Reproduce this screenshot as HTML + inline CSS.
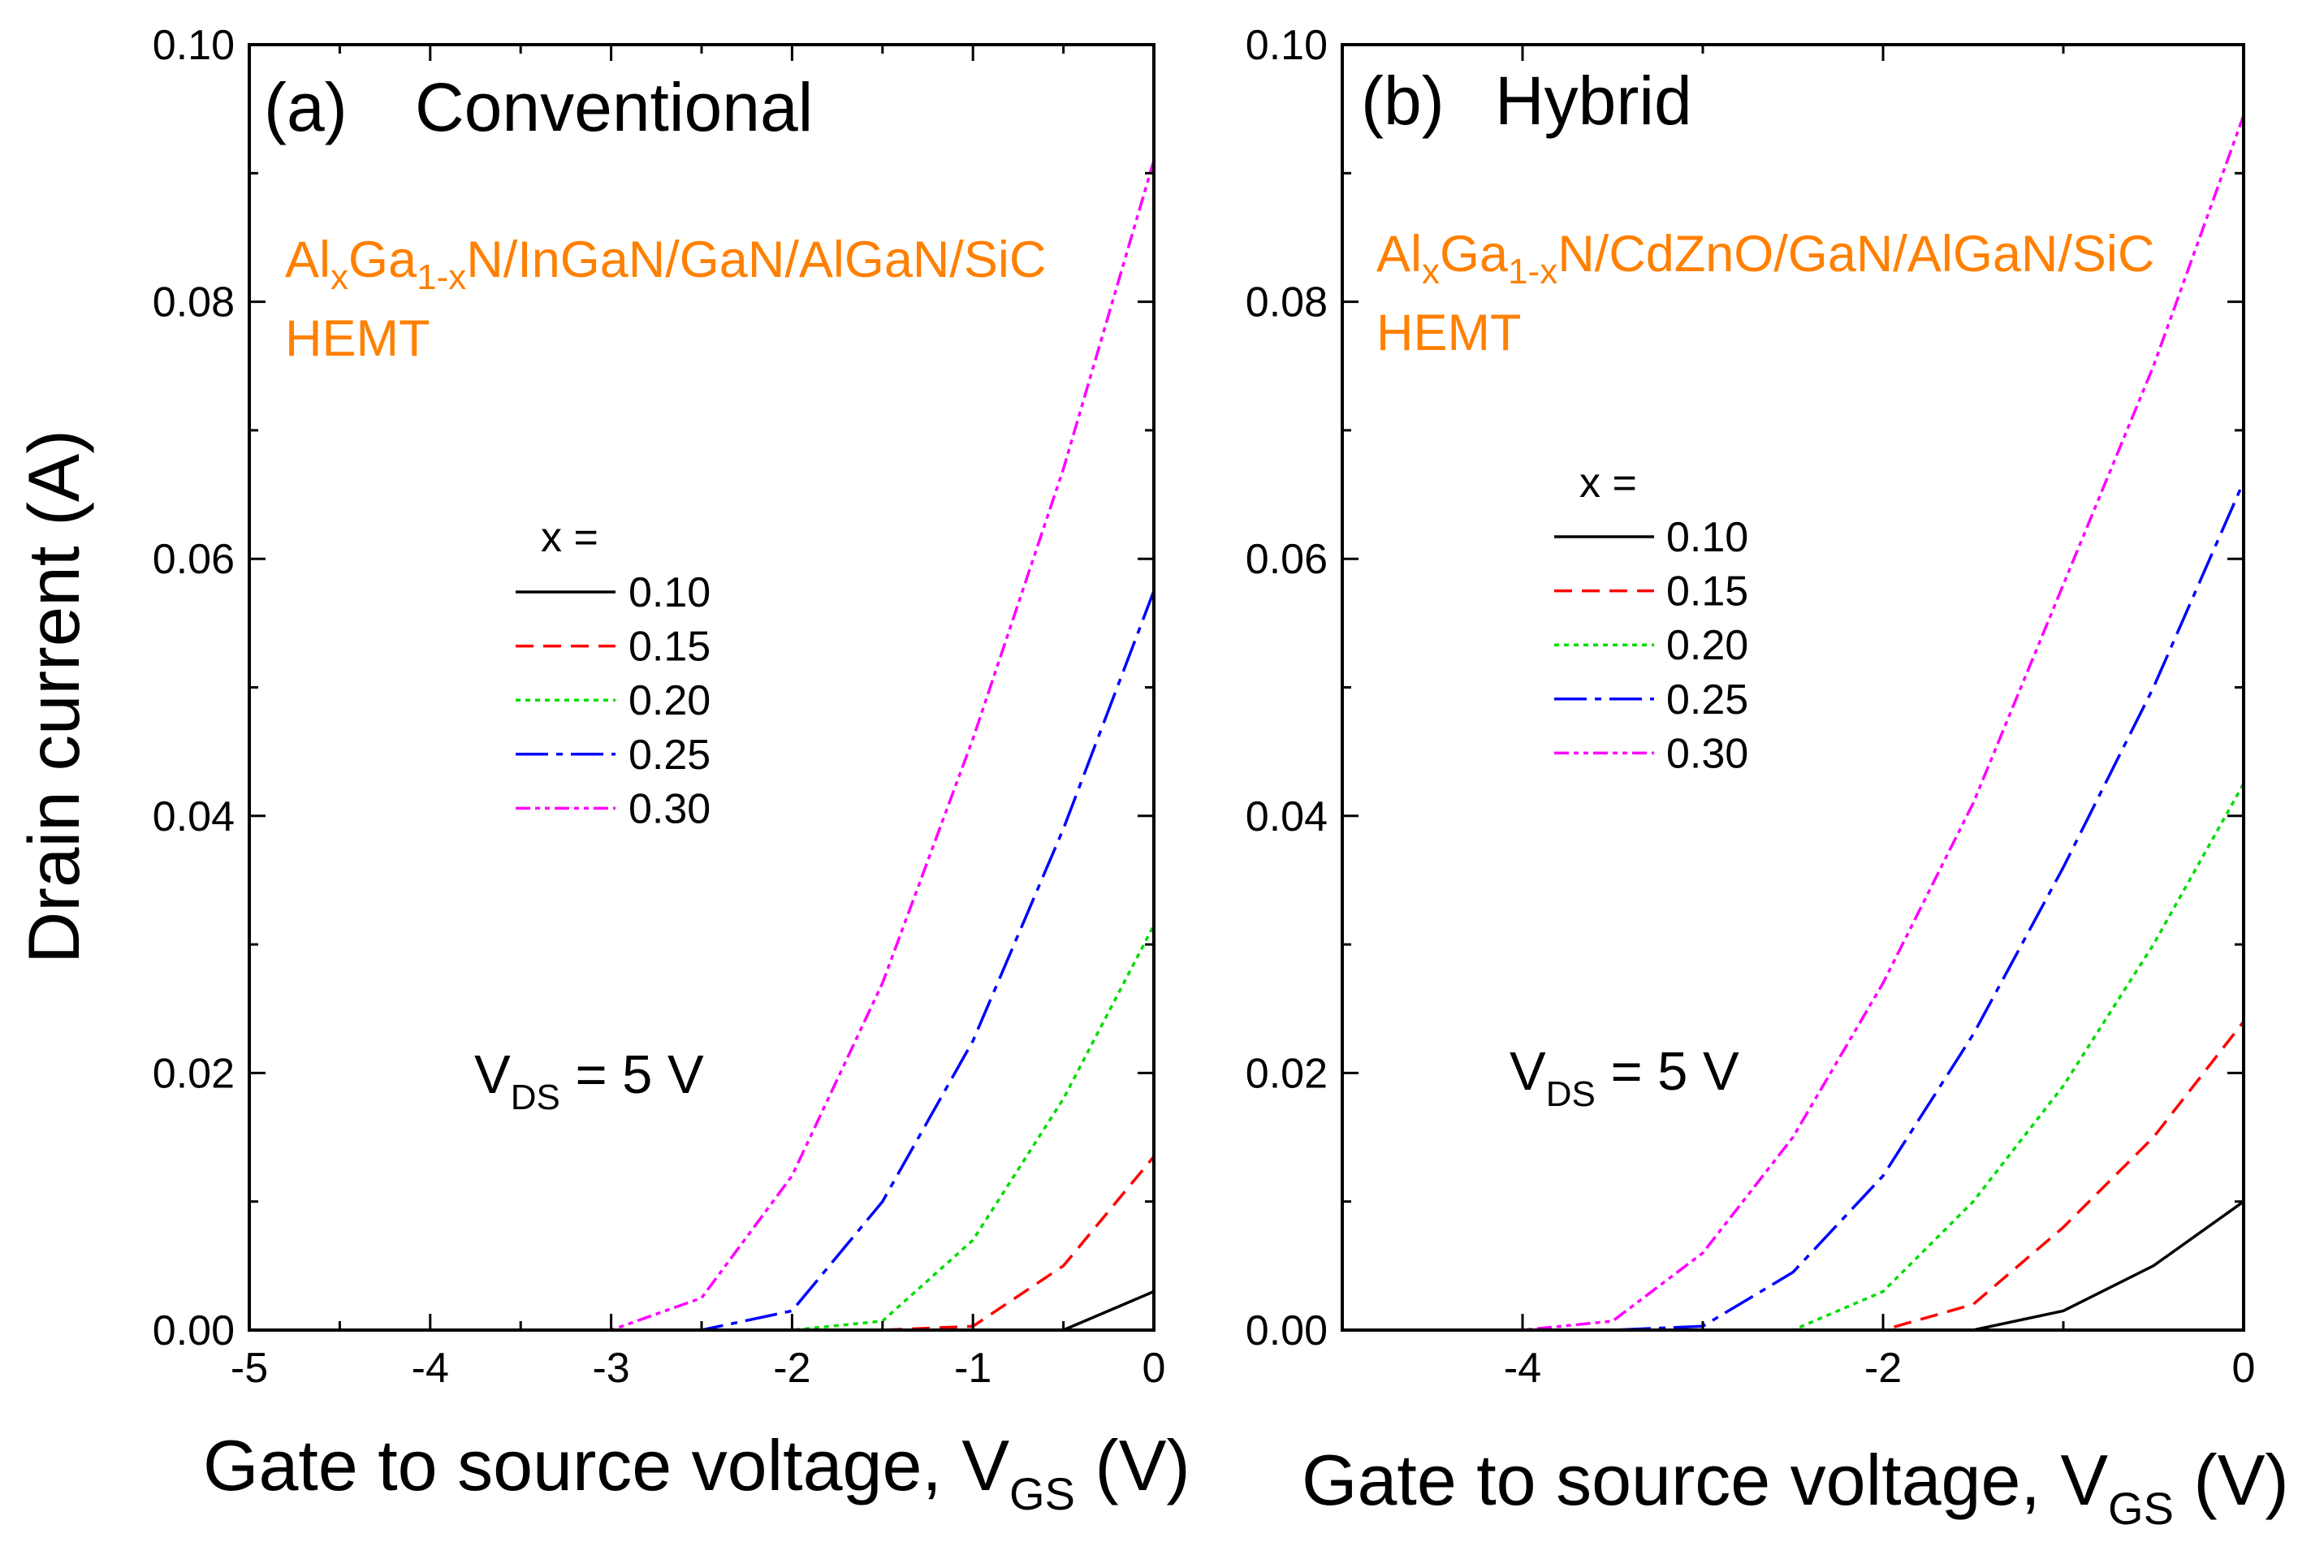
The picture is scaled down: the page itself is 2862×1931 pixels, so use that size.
<!DOCTYPE html>
<html><head><meta charset="utf-8"><style>
html,body{margin:0;padding:0;background:#fff;}
svg{display:block;font-family:"Liberation Sans",Arial,sans-serif;}
</style></head><body>
<svg id="chart" width="2862" height="1931" viewBox="0 0 2862 1931" xmlns="http://www.w3.org/2000/svg">
<rect width="2862" height="1931" fill="#fff"/>
<g id="root"></g>
</svg>
<script>
const xValues = [-5,-4.5,-4,-3.5,-3,-2.5,-2,-1.5,-1,-0.5,0];
const seriesLabels = ["0.10","0.15","0.20","0.25","0.30"];
const aX010 = [0,0,0,0,0,0,0,0,0,0,0.003];
const aX015 = [0,0,0,0,0,0,0,0,0.0003,0.005,0.0135];
const aX020 = [0,0,0,0,0,0,0,0.0007,0.007,0.018,0.0315];
const aX025 = [0,0,0,0,0,0,0.0015,0.01,0.0225,0.039,0.0575];
const aX030 = [0,0,0,0,0,0.0025,0.012,0.027,0.046,0.067,0.091];
const bX010 = [0,0,0,0,0,0,0,0,0.0015,0.005,0.01];
const bX015 = [0,0,0,0,0,0,0,0.002,0.008,0.015,0.024];
const bX020 = [0,0,0,0,0,0,0.003,0.01,0.019,0.03,0.0425];
const bX025 = [0,0,0,0,0.0003,0.0045,0.012,0.023,0.036,0.05,0.066];
const bX030 = [0,0,0,0.0007,0.006,0.015,0.027,0.041,0.058,0.075,0.0945];
const yTicks = ["0.00","0.02","0.04","0.06","0.08","0.10"];
const xTicksA = ["-5","-4","-3","-2","-1","0"];
const xTicksB = ["-4","-2","0"];

const NS="http://www.w3.org/2000/svg";
const root=document.getElementById('root');
function el(tag,attrs,parent){const e=document.createElementNS(NS,tag);for(const k in attrs)e.setAttribute(k,attrs[k]);(parent||root).appendChild(e);return e;}
const colors=["#000","#ff0000","#00dd00","#0000ff","#ff00ff"];
const dashes=["","22,12","6,6","40,10,8,10","18,6,6,6,6,6"];

function panel(p){
  const g=el('g',{});
  
  
  const L=p.left,R=p.right,T=55,B=1638;
  const sx=v=>L+(v+5)/5*(R-L);
  const sy=v=>B-v/0.1*(B-T);
  p.series.forEach((arr,i)=>{
    const d=arr.map((v,j)=>(j?'L':'M')+sx(xValues[j]).toFixed(1)+','+sy(v).toFixed(1)).join(' ');
    const path=el('path',{d:d,fill:'none',stroke:colors[i],'stroke-width':3.5,'stroke-dasharray':dashes[i]},g);
    
    
  });
  const fr=el('rect',{x:L,y:T,width:R-L,height:B-T,fill:'none',stroke:'#000','stroke-width':4},g);
  
  
  for(let k=0;k<=10;k++){
    const y=sy(k*0.01);const len=k%2?11:20;
    el('line',{x1:L,x2:L+len,y1:y,y2:y,stroke:'#000','stroke-width':3},g);
    el('line',{x1:R,x2:R-len,y1:y,y2:y,stroke:'#000','stroke-width':3},g);
  }
  yTicks.forEach((t,k)=>{
    const tx=el('text',{x:L-18,y:sy(k*0.02)+18,'text-anchor':'end','font-size':52},g);
    tx.textContent=t;
    
    
  });
  for(let k=0;k<=10;k++){
    const v=-5+k*0.5;const x=sx(v);
    const major=Math.abs(v%p.majorStep)<1e-9;
    const isInt=Math.abs(v-Math.round(v))<1e-9;
    const len=major?20:(isInt||p.id==='a'?11:0);
    if(!len) continue;
    el('line',{x1:x,x2:x,y1:B,y2:B-len,stroke:'#000','stroke-width':3},g);
    el('line',{x1:x,x2:x,y1:T,y2:T+len,stroke:'#000','stroke-width':3},g);
  }
  p.xTicks.forEach(t=>{
    const tx=el('text',{x:sx(parseFloat(t)),y:1702,'text-anchor':'middle','font-size':52},g);
    tx.textContent=t;
    
    
  });
  const lg=el('g',{},g);
  
  
  const xe=el('text',{x:p.xeX,y:p.xeY,'font-size':52},lg);xe.textContent='x =';
  seriesLabels.forEach((s,i)=>{
    const y=p.ly+i*66.6;
    el('line',{x1:p.lx,x2:p.lx+123,y1:y,y2:y,stroke:colors[i],'stroke-width':3.5,'stroke-dasharray':dashes[i]},lg);
    const t=el('text',{x:p.tx,y:y+18,'font-size':52},lg);t.textContent=s;
    
    
  });
}
panel({id:'a',left:307,right:1421,series:[aX010,aX015,aX020,aX025,aX030],xTicks:xTicksA,majorStep:1,lx:635,ly:729,tx:774,xeX:666,xeY:679});
panel({id:'b',left:1653,right:2763,series:[bX010,bX015,bX020,bX025,bX030],xTicks:xTicksB,majorStep:2,lx:1914,ly:661,tx:2052,xeX:1945,xeY:612});
</script>
<script>
const r2=document.getElementById('root');
r2.insertAdjacentHTML('beforeend',`
<text x="325" y="161" font-size="84">(a)</text>
<text x="511" y="161" font-size="84">Conventional</text>
<text x="351" y="341" font-size="63" fill="#ff8000">Al<tspan font-size="44" dy="15">x</tspan><tspan dy="-15">Ga</tspan><tspan font-size="44" dy="15">1-x</tspan><tspan dy="-15">N/InGaN/GaN/AlGaN/SiC</tspan></text>
<text x="351" y="438" font-size="63" fill="#ff8000">HEMT</text>
<text x="584" y="1346" font-size="67">V<tspan font-size="44" dy="20">DS</tspan><tspan dy="-20"> = 5 V</tspan></text>
<text x="1676" y="153" font-size="84">(b)</text>
<text x="1841" y="153" font-size="84">Hybrid</text>
<text x="1695" y="334" font-size="63" fill="#ff8000">Al<tspan font-size="44" dy="15">x</tspan><tspan dy="-15">Ga</tspan><tspan font-size="44" dy="15">1-x</tspan><tspan dy="-15">N/CdZnO/GaN/AlGaN/SiC</tspan></text>
<text x="1695" y="431" font-size="63" fill="#ff8000">HEMT</text>
<text x="1859" y="1342" font-size="67">V<tspan font-size="44" dy="20">DS</tspan><tspan dy="-20"> = 5 V</tspan></text>
<text x="250" y="1835" font-size="88">Gate to source voltage, V<tspan font-size="56" dy="24">GS</tspan><tspan dy="-24"> (V)</tspan></text>
<text x="1603" y="1853" font-size="88">Gate to source voltage, V<tspan font-size="56" dy="24">GS</tspan><tspan dy="-24"> (V)</tspan></text>
<text x="0" y="0" font-size="89" text-anchor="middle" transform="translate(97,858) rotate(-90)">Drain current (A)</text>
`);
</script>
</body></html>
